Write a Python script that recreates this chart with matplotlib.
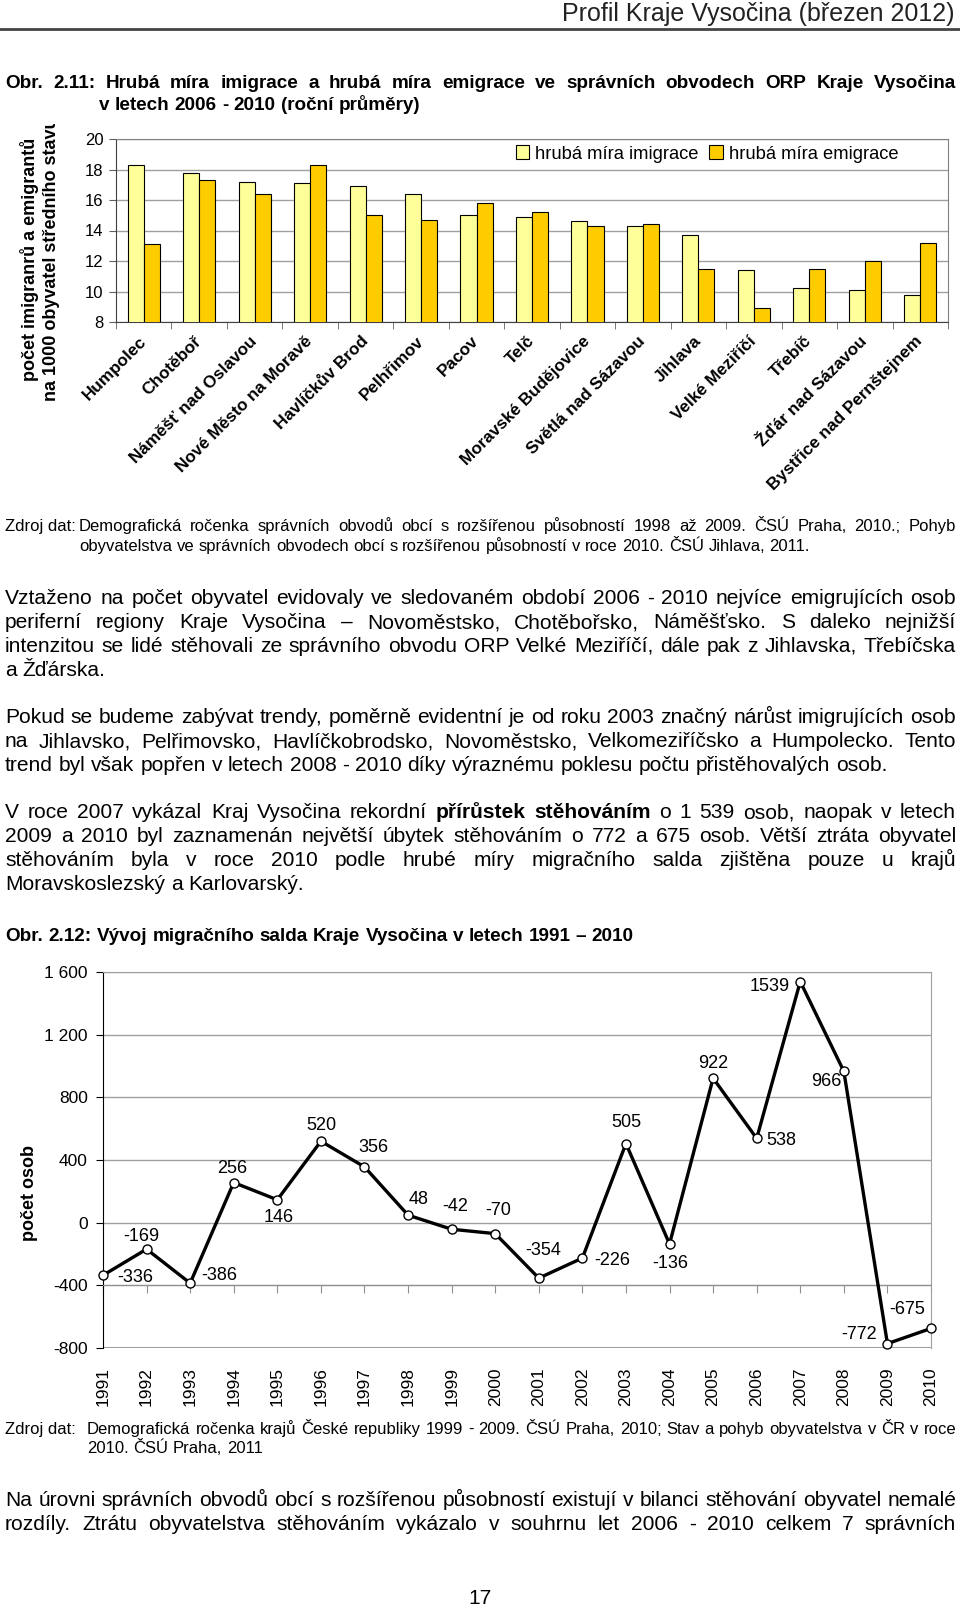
# Profil Kraje Vysočina - Obr. 2.11 a Obr. 2.12 (strana 17)
import numpy as np
import matplotlib.pyplot as plt
from matplotlib.lines import Line2D
from matplotlib.transforms import Bbox, ScaledTranslation

plt.rcParams['font.family'] = ['Liberation Sans', 'DejaVu Sans']

W, H = 960, 1609

# Obr. 2.11 - hrubá míra imigrace / emigrace (na 1000 obyvatel)
obvody = ["Humpolec", "Chotěboř", "Náměšť nad Oslavou", "Nové Město na Moravě",
          "Havlíčkův Brod", "Pelhřimov", "Pacov", "Telč", "Moravské Budějovice",
          "Světlá nad Sázavou", "Jihlava", "Velké Meziříčí", "Třebíč",
          "Žďár nad Sázavou", "Bystřice nad Pernštejnem"]
imigrace = [18.3, 17.8, 17.2, 17.1, 16.9, 16.4, 15.0, 14.9, 14.6, 14.3, 13.7, 11.4, 10.2, 10.1, 9.8]
emigrace = [13.1, 17.3, 16.4, 18.3, 15.0, 14.7, 15.8, 15.2, 14.3, 14.4, 11.5, 8.9, 11.5, 12.0, 13.2]

# Obr. 2.12 - migrační saldo
roky = ["1991", "1992", "1993", "1994", "1995", "1996", "1997", "1998", "1999", "2000",
        "2001", "2002", "2003", "2004", "2005", "2006", "2007", "2008", "2009", "2010"]
saldo = [-336, -169, -386, 256, 146, 520, 356, 48, -42, -70,
         -354, -226, 505, -136, 922, 538, 1539, 966, -772, -675]
osa_y = [-800, -400, 0, 400, 800, 1200, 1600]
osa_y_popisky = ["-800", "-400", "0", "400", "800", "1 200", "1 600"]

# posun popisků hodnot (pixely)
posuny = [(32, 0), (-5, 15), (29, 10), (-2, 16), (1, -16), (0, 18), (9, 21), (11, 18),
          (4, 25), (3, 25), (4, 30), (30, 0), (0, 23), (1, -18), (0, 17), (25, 0),
          (-31, -3), (-18, -8), (-28, 11), (-24, 21)]

# texty stránky
nadpis1 = ["Obr. 2.11: Hrubá míra imigrace a hrubá míra emigrace ve správních obvodech ORP Kraje Vysočina",
           "v letech 2006 - 2010 (roční průměry)"]
zdroj1 = ["Demografická ročenka správních obvodů obcí s rozšířenou působností 1998 až 2009. ČSÚ Praha, 2010.; Pohyb",
          "obyvatelstva ve správních obvodech obcí s rozšířenou působností v roce 2010. ČSÚ Jihlava, 2011."]
odstavec1 = ["Vztaženo na počet obyvatel evidovaly ve sledovaném období 2006 - 2010 nejvíce emigrujících osob",
             "periferní regiony Kraje Vysočina – Novoměstsko, Chotěbořsko, Náměšťsko. S daleko nejnižší",
             "intenzitou se lidé stěhovali ze správního obvodu ORP Velké Meziříčí, dále pak z Jihlavska, Třebíčska",
             "a Žďárska."]
odstavec2 = ["Pokud se budeme zabývat trendy, poměrně evidentní je od roku 2003 značný nárůst imigrujících osob",
             "na Jihlavsko, Pelřimovsko, Havlíčkobrodsko, Novoměstsko, Velkomeziříčsko a Humpolecko. Tento",
             "trend byl však popřen v letech 2008 - 2010 díky výraznému poklesu počtu přistěhovalých osob."]
odstavec3 = ["V roce 2007 vykázal Kraj Vysočina rekordní **přírůstek stěhováním** o 1 539 osob, naopak v letech",
             "2009 a 2010 byl zaznamenán největší úbytek stěhováním o 772 a 675 osob. Větší ztráta obyvatel",
             "stěhováním byla v roce 2010 podle hrubé míry migračního salda zjištěna pouze u krajů",
             "Moravskoslezský a Karlovarský."]
nadpis2 = "Obr. 2.12: Vývoj migračního salda Kraje Vysočina v letech 1991 – 2010"
zdroj2 = ["Demografická ročenka krajů České republiky 1999 - 2009. ČSÚ Praha, 2010; Stav a pohyb obyvatelstva v ČR v roce",
          "2010. ČSÚ Praha, 2011"]
odstavec4 = ["Na úrovni správních obvodů obcí s rozšířenou působností existují v bilanci stěhování obyvatel nemalé",
             "rozdíly. Ztrátu obyvatelstva stěhováním vykázalo v souhrnu let 2006 - 2010 celkem 7 správních"]

fig = plt.figure(figsize=(9.6, 16.09), dpi=100)
renderer = fig.canvas.get_renderer()


def fx(x):
    return x / W


def fy(y):
    return 1 - y / H


def rect(l, t, r, b):
    return [l / W, 1 - b / H, (r - l) / W, (b - t) / H]


def radek(text, y, x0, x1, size, zarovnat=True, bold=False):
    # vlastní zarovnání do bloku: každé slovo zvlášť
    slova = []
    for i, kus in enumerate(text.split("**")):
        for s in kus.split():
            slova.append((s, bold or i % 2 == 1))
    texty = [fig.text(0, fy(y), s, fontsize=size, va='baseline', ha='left',
                      fontweight='bold' if b else 'normal') for s, b in slova]
    sirky = [t.get_window_extent(renderer).width for t in texty]
    if zarovnat and len(texty) > 1:
        mezera = (x1 - x0 - sum(sirky)) / (len(texty) - 1)
    else:
        mezera = 0.278 * size * 100 / 72
    x = x0
    for t, w in zip(texty, sirky):
        t.set_x(fx(x))
        x += w + mezera


# záhlaví
fig.text(fx(955), fy(21), "Profil Kraje Vysočina (březen 2012)", fontsize=18,
         ha='right', va='baseline', color='#222222')
fig.add_artist(Line2D([0, 1], [fy(29), fy(29)], color='#444444', lw=2))

radek(nadpis1[0], 88, 5, 956, 13.6, bold=True)
radek(nadpis1[1], 110, 99, 956, 13.6, zarovnat=False, bold=True)

# ---- Obr. 2.11 ----
ax1 = fig.add_axes(rect(116, 139, 948, 322))
x = np.arange(len(obvody))
w = 0.29
ax1.bar(x - w / 2, imigrace, w, color='#FFFF99', edgecolor='black', linewidth=0.8,
        label='hrubá míra imigrace', zorder=3)
ax1.bar(x + w / 2, emigrace, w, color='#FFCC00', edgecolor='black', linewidth=0.8,
        label='hrubá míra emigrace', zorder=3)
ax1.set_xlim(-0.5, len(obvody) - 0.5)
ax1.set_ylim(8, 20)
ax1.set_yticks(range(8, 21, 2))
ax1.yaxis.grid(True, color='#A0A0A0', lw=1)
ax1.set_axisbelow(True)
ax1.set_xticks(x)
ax1.set_xticklabels(obvody, rotation=45, ha='right', va='center', rotation_mode='anchor',
                    fontweight='bold', fontsize=12.3)
for lab in ax1.get_xticklabels():
    lab.set_transform(lab.get_transform() + ScaledTranslation(-12 / 72, 2 / 72, fig.dpi_scale_trans))
ax1.set_xticks(np.arange(-0.5, len(obvody)), minor=True)
ax1.tick_params(axis='x', which='major', length=0, pad=12)
ax1.tick_params(axis='x', which='minor', length=5, color='#606060')
ax1.tick_params(axis='y', length=5, labelsize=12, pad=4, color='#606060')
for s in ['top', 'right']:
    ax1.spines[s].set_color('#808080')
for s in ['left', 'bottom']:
    ax1.spines[s].set_color('#404040')
ax1.legend(loc='center', bbox_to_anchor=(fx(707), fy(154)), bbox_transform=fig.transFigure,
           ncol=2, frameon=False, fontsize=13.2, handlelength=0.75, handleheight=0.75,
           handletextpad=0.3, columnspacing=0.6, borderpad=0)

yl = fig.text(fx(40), fy(259), "počet imigranrů a emigrantů\nna 1000 obyvatel středního stavu",
              rotation=90, ha='center', va='center', fontweight='bold', fontsize=13,
              multialignment='center', linespacing=1.25)
yl.set_clip_box(Bbox([[0, 0], [W, H - 124]]))
yl.set_clip_on(True)

# zdroj a odstavce
fig.text(fx(5), fy(531), "Zdroj dat:", fontsize=12, va='baseline')
radek(zdroj1[0], 531, 79, 956, 12)
radek(zdroj1[1], 551, 79, 956, 12, zarovnat=False)

for i, ln in enumerate(odstavec1):
    radek(ln, 604 + 24 * i, 5, 956, 15.1, zarovnat=i < len(odstavec1) - 1)
for i, ln in enumerate(odstavec2):
    radek(ln, 723 + 24 * i, 5, 956, 15.1, zarovnat=i < len(odstavec2) - 1)
for i, ln in enumerate(odstavec3):
    radek(ln, 818 + 24 * i, 5, 956, 15.1, zarovnat=i < len(odstavec3) - 1)

radek(nadpis2, 941, 5, 956, 13.6, zarovnat=False, bold=True)

# ---- Obr. 2.12 ----
ax2 = fig.add_axes(rect(103, 972, 931, 1348))
xs = np.arange(len(roky))
ax2.plot(xs, saldo, color='black', lw=2.4, marker='o', ms=6.5, mfc='white', mec='black',
         mew=1.0, zorder=4, clip_on=False)
ax2.set_xlim(0, len(roky) - 1)
ax2.set_ylim(-800, 1600)
ax2.set_yticks(osa_y)
ax2.set_yticklabels(osa_y_popisky)
ax2.yaxis.grid(True, color='#A0A0A0', lw=1)
ax2.axhline(-800, color='#A0A0A0', lw=1.5, zorder=1)
ax2.set_axisbelow(True)
ax2.spines['bottom'].set_position(('data', -400))
ax2.spines['bottom'].set_color('#909090')
ax2.spines['top'].set_color('#A0A0A0')
ax2.spines['right'].set_color('#A0A0A0')
ax2.spines['left'].set_color('black')
ax2.set_xticks(xs)
ax2.tick_params(axis='x', length=6, color='#909090', labelbottom=False)
ax2.tick_params(axis='y', length=5, labelsize=12.5, pad=6)

sec = ax2.secondary_xaxis('bottom')
sec.set_xticks(xs, labels=roky)
sec.tick_params(length=0, pad=14, labelrotation=90, labelsize=12.5)
sec.spines['bottom'].set_visible(False)

for i, (v, (dx, dy)) in enumerate(zip(saldo, posuny)):
    ax2.annotate(str(v), (i, v), xytext=(dx, dy - 2), textcoords='offset pixels',
                 ha='center', va='center', fontsize=13, zorder=5)

fig.text(fx(29), fy(1193), "počet osob", rotation=90, ha='center', va='center',
         fontweight='bold', fontsize=13)

fig.text(fx(5), fy(1434), "Zdroj dat:", fontsize=12, va='baseline')
radek(zdroj2[0], 1434, 87, 956, 12)
radek(zdroj2[1], 1453, 87, 956, 12, zarovnat=False)

for i, ln in enumerate(odstavec4):
    radek(ln, 1506 + 24 * i, 5, 956, 15.1)

fig.text(fx(480), fy(1604), "17", fontsize=15, ha='center', va='baseline')

fig.savefig("out.png", dpi=100)
